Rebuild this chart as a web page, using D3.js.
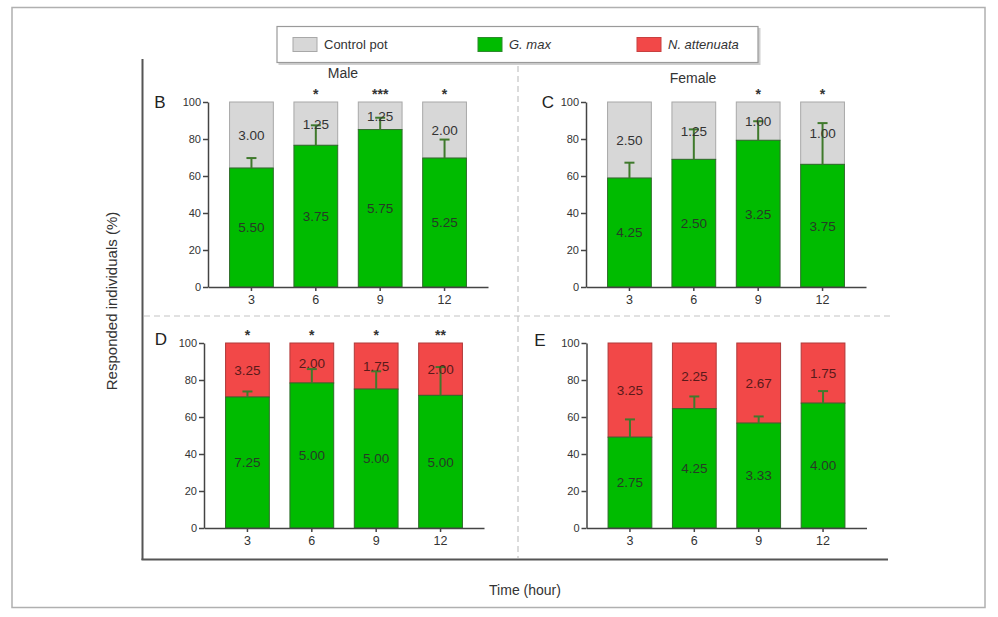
<!DOCTYPE html>
<html><head><meta charset="utf-8">
<script src="https://cdn.jsdelivr.net/npm/d3@7"></script>
<style>body{margin:0;background:#fff}svg{display:block;font-family:"Liberation Sans",Arial,sans-serif}</style>
</head><body><svg id="c" width="998" height="617"></svg>
<script>
// ---- data ----
const times = ["3", "6", "9", "12"];
const yTicks = [0, 20, 40, 60, 80, 100];
const legendItems = ["Control pot", "G. max", "N. attenuata"];

const maleControlGreen = [64.3, 76.6, 85.1, 69.7];
const maleControlErr   = [69.7, 87.4, 91.5, 79.7];
const maleControlGreenLbl = ["5.50", "3.75", "5.75", "5.25"];
const maleControlOtherLbl = ["3.00", "1.25", "1.25", "2.00"];
const maleControlStars = ["", "*", "***", "*"];

const femaleControlGreen = [58.9, 69.0, 79.3, 66.3];
const femaleControlErr   = [67.2, 85.2, 89.6, 88.6];
const femaleControlGreenLbl = ["4.25", "2.50", "3.25", "3.75"];
const femaleControlOtherLbl = ["2.50", "1.25", "1.00", "1.00"];
const femaleControlStars = ["", "", "*", "*"];

const maleNattGreen = [70.8, 78.4, 75.1, 71.7];
const maleNattErr   = [73.8, 85.9, 84.7, 87.0];
const maleNattGreenLbl = ["7.25", "5.00", "5.00", "5.00"];
const maleNattOtherLbl = ["3.25", "2.00", "1.75", "2.00"];
const maleNattStars = ["*", "*", "*", "**"];

const femaleNattGreen = [49.1, 64.5, 56.7, 67.5];
const femaleNattErr   = [58.7, 71.1, 60.3, 74.0];
const femaleNattGreenLbl = ["2.75", "4.25", "3.33", "4.00"];
const femaleNattOtherLbl = ["3.25", "2.25", "2.67", "1.75"];
const femaleNattStars = ["", "", "", ""];

// ---- style ----
const C_GRAY = "#d7d7d7", C_GRAY_S = "#a8a8a8";
const C_GREEN = "#00bb00", C_GREEN_S = "#2f6b2a";
const C_RED = "#f24848", C_RED_S = "#b03a3a";
const C_ERR = "#3f7a2c";
const svg = d3.select("#c");

// outer border
svg.append("rect").attr("x", 12).attr("y", 7.5).attr("width", 973).attr("height", 600)
  .attr("fill", "none").attr("stroke", "#b0b0b0").attr("stroke-width", 1.5);

// legend
const lg = svg.append("g");
lg.append("rect").attr("x", 278.5).attr("y", 28).attr("width", 482).attr("height", 37)
  .attr("fill", "#cfcfcf");
lg.append("rect").attr("x", 277).attr("y", 26.5).attr("width", 481).attr("height", 36)
  .attr("fill", "#fff").attr("stroke", "#9a9a9a").attr("stroke-width", 1.2);
const legendFill = [C_GRAY, C_GREEN, C_RED], legendStroke = [C_GRAY_S, "#2d8a2d", "#c84040"];
const legendX = [293, 478, 637];
legendItems.forEach((t, i) => {
  lg.append("rect").attr("x", legendX[i]).attr("y", 37.5).attr("width", 24).attr("height", 14)
    .attr("fill", legendFill[i]).attr("stroke", legendStroke[i]).attr("stroke-width", 1);
  lg.append("text").attr("x", legendX[i] + 31).attr("y", 49).attr("font-size", 13)
    .attr("fill", "#333").attr("font-style", i === 0 ? "normal" : "italic").text(t);
});

// frame
svg.append("line").attr("x1", 142.5).attr("x2", 142.5).attr("y1", 59).attr("y2", 560)
  .attr("stroke", "#555").attr("stroke-width", 2);
svg.append("line").attr("x1", 141.5).attr("x2", 888).attr("y1", 559.5).attr("y2", 559.5)
  .attr("stroke", "#555").attr("stroke-width", 2);
// dashed dividers
svg.append("line").attr("x1", 144).attr("x2", 893).attr("y1", 316).attr("y2", 316)
  .attr("stroke", "#c4c4c4").attr("stroke-width", 1.2).attr("stroke-dasharray", "6,4");
svg.append("line").attr("x1", 518).attr("x2", 518).attr("y1", 66).attr("y2", 558)
  .attr("stroke", "#c4c4c4").attr("stroke-width", 1.2).attr("stroke-dasharray", "6,4");

// axis titles
svg.append("text").attr("transform", "translate(117,301) rotate(-90)").attr("text-anchor", "middle")
  .attr("font-size", 15).attr("fill", "#333").text("Responded individuals (%)");
svg.append("text").attr("x", 525).attr("y", 595).attr("text-anchor", "middle")
  .attr("font-size", 14).attr("fill", "#333").text("Time (hour)");
svg.append("text").attr("x", 343).attr("y", 78).attr("text-anchor", "middle")
  .attr("font-size", 14).attr("fill", "#333").text("Male");
svg.append("text").attr("x", 693).attr("y", 83).attr("text-anchor", "middle")
  .attr("font-size", 14).attr("fill", "#333").text("Female");

const panels = [
  {letter: "B", lx: 160, ly: 102, x0: 208, y0: 102, green: maleControlGreen, err: maleControlErr,
   gl: maleControlGreenLbl, ol: maleControlOtherLbl, stars: maleControlStars, top: C_GRAY, topS: C_GRAY_S},
  {letter: "C", lx: 548, ly: 102, x0: 586, y0: 102, green: femaleControlGreen, err: femaleControlErr,
   gl: femaleControlGreenLbl, ol: femaleControlOtherLbl, stars: femaleControlStars, top: C_GRAY, topS: C_GRAY_S},
  {letter: "D", lx: 161, ly: 339, x0: 204, y0: 343, green: maleNattGreen, err: maleNattErr,
   gl: maleNattGreenLbl, ol: maleNattOtherLbl, stars: maleNattStars, top: C_RED, topS: C_RED_S},
  {letter: "E", lx: 540, ly: 340, x0: 586.5, y0: 343, green: femaleNattGreen, err: femaleNattErr,
   gl: femaleNattGreenLbl, ol: femaleNattOtherLbl, stars: femaleNattStars, top: C_RED, topS: C_RED_S}
];

panels.forEach(p => {
  const W = 280, H = 185;
  const g = svg.append("g");
  const x = d3.scaleBand().domain(times).range([p.x0, p.x0 + W]).paddingInner(0.32).paddingOuter(0.335);
  const y = d3.scaleLinear().domain([0, 100]).range([p.y0 + H, p.y0]);
  const bw = x.bandwidth();

  times.forEach((t, i) => {
    const xl = x(t), xc = xl + bw / 2;
    g.append("rect").attr("x", xl).attr("y", y(100)).attr("width", bw).attr("height", y(p.green[i]) - y(100))
      .attr("fill", p.top).attr("stroke", p.topS).attr("stroke-width", 1);
    g.append("rect").attr("x", xl).attr("y", y(p.green[i])).attr("width", bw).attr("height", y(0) - y(p.green[i]))
      .attr("fill", C_GREEN).attr("stroke", C_GREEN_S).attr("stroke-width", 1);
    g.append("line").attr("x1", xc).attr("x2", xc).attr("y1", y(p.green[i])).attr("y2", y(p.err[i]))
      .attr("stroke", C_ERR).attr("stroke-width", 2);
    g.append("line").attr("x1", xc - 5).attr("x2", xc + 5).attr("y1", y(p.err[i])).attr("y2", y(p.err[i]))
      .attr("stroke", C_ERR).attr("stroke-width", 2);
    g.append("text").attr("x", xc).attr("y", y(p.green[i] / 2)).attr("dy", "0.36em").attr("text-anchor", "middle")
      .attr("font-size", 13.5).attr("fill", "#263a26").text(p.gl[i]);
    g.append("text").attr("x", xc).attr("y", y((p.green[i] + 100) / 2)).attr("dy", "0.36em").attr("text-anchor", "middle")
      .attr("font-size", 13.5).attr("fill", p.top === C_RED ? "#5a1a1a" : "#333").text(p.ol[i]);
    if (p.stars[i]) {
      g.append("text").attr("x", xc).attr("y", y(100) - 3).attr("text-anchor", "middle")
        .attr("font-size", 14).attr("font-weight", "bold").attr("fill", "#333").text(p.stars[i]);
    }
  });

  const ya = g.append("g").attr("transform", `translate(${p.x0},0)`)
    .call(d3.axisLeft(y).tickValues(yTicks).tickSize(5).tickSizeOuter(0).tickPadding(2));
  const xa = g.append("g").attr("transform", `translate(0,${p.y0 + H})`)
    .call(d3.axisBottom(x).tickSize(4).tickSizeOuter(0).tickPadding(4));
  [ya, xa].forEach(a => {
    a.select(".domain").attr("stroke", "#444").attr("stroke-width", 1.5);
    a.selectAll(".tick line").attr("stroke", "#444").attr("stroke-width", 1.5);
    a.selectAll("text").attr("font-size", 11).attr("fill", "#333").attr("font-family", "Liberation Sans, Arial, sans-serif");
  });
  xa.selectAll("text").attr("font-size", 12.5);

  g.append("text").attr("x", p.lx).attr("y", p.ly).attr("dy", "0.36em").attr("text-anchor", "middle")
    .attr("font-size", 17).attr("fill", "#222").text(p.letter);
});
</script></body></html>
